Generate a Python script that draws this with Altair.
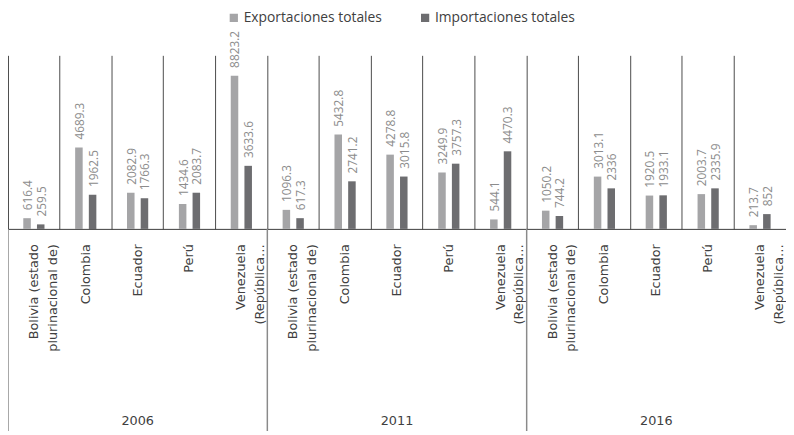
import altair as alt
import pandas as pd

years = ["2006", "2011", "2016"]
countries = [
    "Bolivia (estado|plurinacional de)",
    "Colombia",
    "Ecuador",
    "Perú",
    "Venezuela|(República…",
]
series = ["Exportaciones totales", "Importaciones totales"]
exports = [
    [616.4, 4689.3, 2082.9, 1434.6, 8823.2],
    [1096.3, 5432.8, 4278.8, 3249.9, 544.1],
    [1050.2, 3013.1, 1920.5, 2003.7, 213.7],
]
imports = [
    [259.5, 1962.5, 1766.3, 2083.7, 3633.6],
    [617.3, 2741.2, 3015.8, 3757.3, 4470.3],
    [744.2, 2336, 1933.1, 2335.9, 852],
]

rows = []
order = []
for yi, yr in enumerate(years):
    for ci, c in enumerate(countries):
        key = f"{yr}|{c}"
        order.append(key)
        rows.append({"key": key, "year": yr, "serie": series[0], "valor": exports[yi][ci], "ci": ci})
        rows.append({"key": key, "year": yr, "serie": series[1], "valor": imports[yi][ci], "ci": ci})
df = pd.DataFrame(rows)
df["label"] = df["valor"].map(lambda v: f"{v:g}")

W, H = 789, 176
FONT = "Open Sans"
AXFONT = "DejaVu Sans"

xscale = alt.Scale(domain=order, paddingInner=0, paddingOuter=0)
yscale = alt.Scale(domain=[0, 10000])
cscale = alt.Scale(domain=series, range=["#a5a5a7", "#6d6d70"])
offscale = alt.Scale(domain=series, paddingInner=0.45, paddingOuter=0, range=[15.5, 37])

xaxis = alt.Axis(
    title=None,
    labelExpr="slice(split(datum.label, '|'), 1)",
    labelAngle=270,
    labelAlign="right",
    labelBaseline="middle",
    labelPadding=15,
    labelFont=AXFONT,
    labelFontSize=13,
    labelColor="#404040",
    labelLineHeight=19,
    ticks=False,
    grid=True,
    gridColor="#4a4a4a",
    gridWidth=1,
    bandPosition=0,
    domainColor="#3a3a3a",
    domainWidth=1,
    labelOverlap=False,
)

base = alt.Chart(df)

bars = base.mark_bar().encode(
    x=alt.X("key:N", scale=xscale, axis=xaxis, sort=order),
    xOffset=alt.XOffset("serie:N", scale=offscale, sort=series),
    y=alt.Y("valor:Q", scale=yscale, axis=None),
    color=alt.Color(
        "serie:N",
        scale=cscale,
        sort=series,
        legend=alt.Legend(
            title=None,
            orient="none",
            direction="horizontal",
            legendX=222,
            legendY=-45,
            symbolType="square",
            symbolSize=70,
            symbolStrokeWidth=0,
            labelFont=FONT,
            labelFontSize=14,
            labelColor="#404040",
            columnPadding=36,
            symbolOffset=0,
            labelOffset=3,
        ),
    ),
)

labels = base.mark_text(
    angle=270, align="left", baseline="middle", dx=8, dy=1,
    font=FONT, fontSize=12, color="#8c8c8c",
).encode(
    x=alt.X("key:N", scale=xscale, sort=order),
    xOffset=alt.XOffset("serie:N", scale=offscale, sort=series),
    y=alt.Y("valor:Q", scale=yscale),
    text="label:N",
)

ydf = pd.DataFrame({"year": years, "first": [f"{y}|{countries[0]}" for y in years],
                    "mid": [f"{y}|{countries[2]}" for y in years]})
ybase = alt.Chart(ydf)
year_rules = ybase.mark_rule(color="#8a8a8a", strokeWidth=1.5).encode(
    x=alt.X("first:N", scale=xscale, sort=order, bandPosition=0),
    y=alt.value(H),
    y2=alt.value(H + 205),
)
year_text = ybase.mark_text(font=AXFONT, fontSize=13, color="#404040", baseline="middle").encode(
    x=alt.X("mid:N", scale=xscale, sort=order),
    y=alt.value(H + 195),
    text="year:N",
)

chart = alt.layer(bars, labels, year_rules, year_text).properties(
    width=W, height=H,
    autosize=alt.AutoSizeParams(type="none"),
    padding={"left": 0, "top": 45, "right": 0, "bottom": 205},
).configure_view(stroke=None)

chart.save("out.html", embed_options={"renderer": "svg", "actions": False})
